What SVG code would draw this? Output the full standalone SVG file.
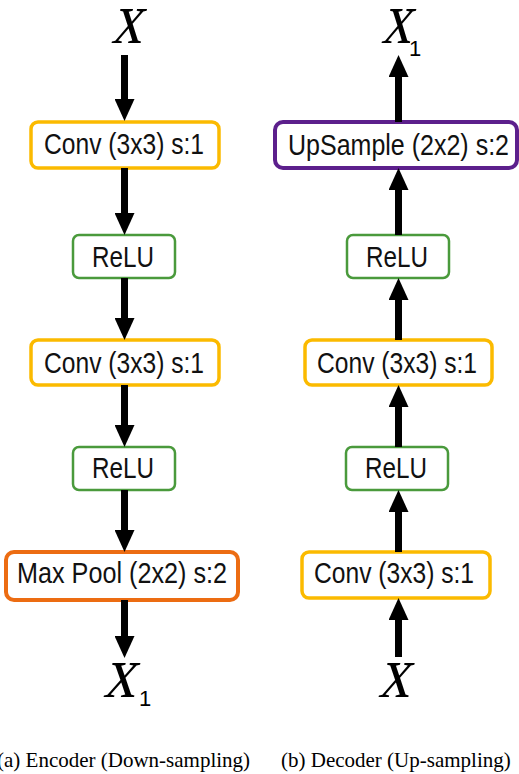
<svg xmlns="http://www.w3.org/2000/svg" width="519" height="774" viewBox="0 0 519 774">
  <defs>
    <marker id="head" viewBox="0 0 22 20" refX="12" refY="10" markerWidth="22" markerHeight="20" markerUnits="userSpaceOnUse" orient="auto">
      <path d="M0 0 L22 10 L0 20 z" fill="#000"/>
    </marker>
    <style>
      .box { fill: #fff; }
      .conv { stroke: #FBBA00; stroke-width: 3.5; }
      .relu { stroke: #4A9A3C; stroke-width: 2.5; }
      .pool { stroke: #EC6C12; stroke-width: 4; }
      .up { stroke: #5C1F8C; stroke-width: 4; }
      .lbl { font-family: "Liberation Sans", Arial, sans-serif; font-size: 29px; fill: #111; }
      .var { font-family: "Liberation Serif", "Times New Roman", serif; font-size: 74px; fill: #000; }
      .sub { font-family: "Liberation Sans", Arial, sans-serif; font-size: 22px; fill: #000; }
      .cap { font-family: "Liberation Serif", "Times New Roman", serif; font-size: 21px; fill: #000; }
      .arrow { stroke: #000; stroke-width: 7; fill: none; marker-end: url(#head); }
    </style>
  </defs>

  <!-- Encoder column -->
  <g id="enc-in"><text class="var" transform="translate(111,43) skewX(-13) scale(0.82,1)">x</text></g>
  <g id="enc-conv1">
    <rect class="box conv" x="31" y="122" width="188" height="46" rx="7"/>
    <text class="lbl" x="44" y="154" textLength="160" lengthAdjust="spacingAndGlyphs">Conv (3x3) s:1</text>
  </g>
  <g id="enc-relu1">
    <rect class="box relu" x="73" y="235" width="102" height="43" rx="6"/>
    <text class="lbl" x="92" y="267" textLength="62" lengthAdjust="spacingAndGlyphs">ReLU</text>
  </g>
  <g id="enc-conv2">
    <rect class="box conv" x="31" y="340" width="188" height="45" rx="7"/>
    <text class="lbl" x="44" y="373" textLength="160" lengthAdjust="spacingAndGlyphs">Conv (3x3) s:1</text>
  </g>
  <g id="enc-relu2">
    <rect class="box relu" x="73" y="447" width="102" height="43" rx="6"/>
    <text class="lbl" x="92" y="478" textLength="62" lengthAdjust="spacingAndGlyphs">ReLU</text>
  </g>
  <g id="enc-pool">
    <rect class="box pool" x="6" y="552" width="232" height="48" rx="8"/>
    <text class="lbl" x="17" y="583" textLength="210" lengthAdjust="spacingAndGlyphs">Max Pool (2x2) s:2</text>
  </g>
  <g id="enc-out">
    <text class="var" transform="translate(103,697) skewX(-13) scale(0.86,1)">x</text>
    <text class="sub" x="139" y="706">1</text>
  </g>

  <!-- Decoder column -->
  <g id="dec-out">
    <text class="var" transform="translate(381,43) skewX(-13) scale(0.8,1)">x</text>
    <text class="sub" x="409" y="56">1</text>
  </g>
  <g id="dec-up">
    <rect class="box up" x="275" y="122" width="242" height="46" rx="8"/>
    <text class="lbl" x="288" y="155" textLength="221" lengthAdjust="spacingAndGlyphs">UpSample (2x2) s:2</text>
  </g>
  <g id="dec-relu1">
    <rect class="box relu" x="347" y="235" width="102" height="43" rx="6"/>
    <text class="lbl" x="366" y="267" textLength="62" lengthAdjust="spacingAndGlyphs">ReLU</text>
  </g>
  <g id="dec-conv1">
    <rect class="box conv" x="305" y="340" width="187" height="45" rx="7"/>
    <text class="lbl" x="317" y="373" textLength="160" lengthAdjust="spacingAndGlyphs">Conv (3x3) s:1</text>
  </g>
  <g id="dec-relu2">
    <rect class="box relu" x="346" y="447" width="102" height="43" rx="6"/>
    <text class="lbl" x="365" y="478" textLength="62" lengthAdjust="spacingAndGlyphs">ReLU</text>
  </g>
  <g id="dec-conv2">
    <rect class="box conv" x="302" y="552" width="188" height="46" rx="7"/>
    <text class="lbl" x="314" y="583" textLength="160" lengthAdjust="spacingAndGlyphs">Conv (3x3) s:1</text>
  </g>
  <g id="dec-in"><text class="var" transform="translate(378,697) skewX(-13) scale(0.84,1)">x</text></g>

  <!-- connectors -->
  <g id="connectors">
    <line class="arrow" x1="124.5" y1="55" x2="124.5" y2="111"/>
    <line class="arrow" x1="124.5" y1="168" x2="124.5" y2="225"/>
    <line class="arrow" x1="124.5" y1="278" x2="124.5" y2="330"/>
    <line class="arrow" x1="124.5" y1="385" x2="124.5" y2="437"/>
    <line class="arrow" x1="124.5" y1="490" x2="124.5" y2="542"/>
    <line class="arrow" x1="124.5" y1="600" x2="124.5" y2="648"/>

    <line class="arrow" x1="398.5" y1="657" x2="398.5" y2="608"/>
    <line class="arrow" x1="398.5" y1="552" x2="398.5" y2="500"/>
    <line class="arrow" x1="398.5" y1="447" x2="398.5" y2="395"/>
    <line class="arrow" x1="398.5" y1="340" x2="398.5" y2="288"/>
    <line class="arrow" x1="398.5" y1="235" x2="398.5" y2="178"/>
    <line class="arrow" x1="398.5" y1="122" x2="398.5" y2="65"/>
  </g>

  <!-- captions -->
  <text class="cap" x="-3" y="767">(a) Encoder (Down-sampling)</text>
  <text class="cap" x="281" y="767">(b) Decoder (Up-sampling)</text>
</svg>
